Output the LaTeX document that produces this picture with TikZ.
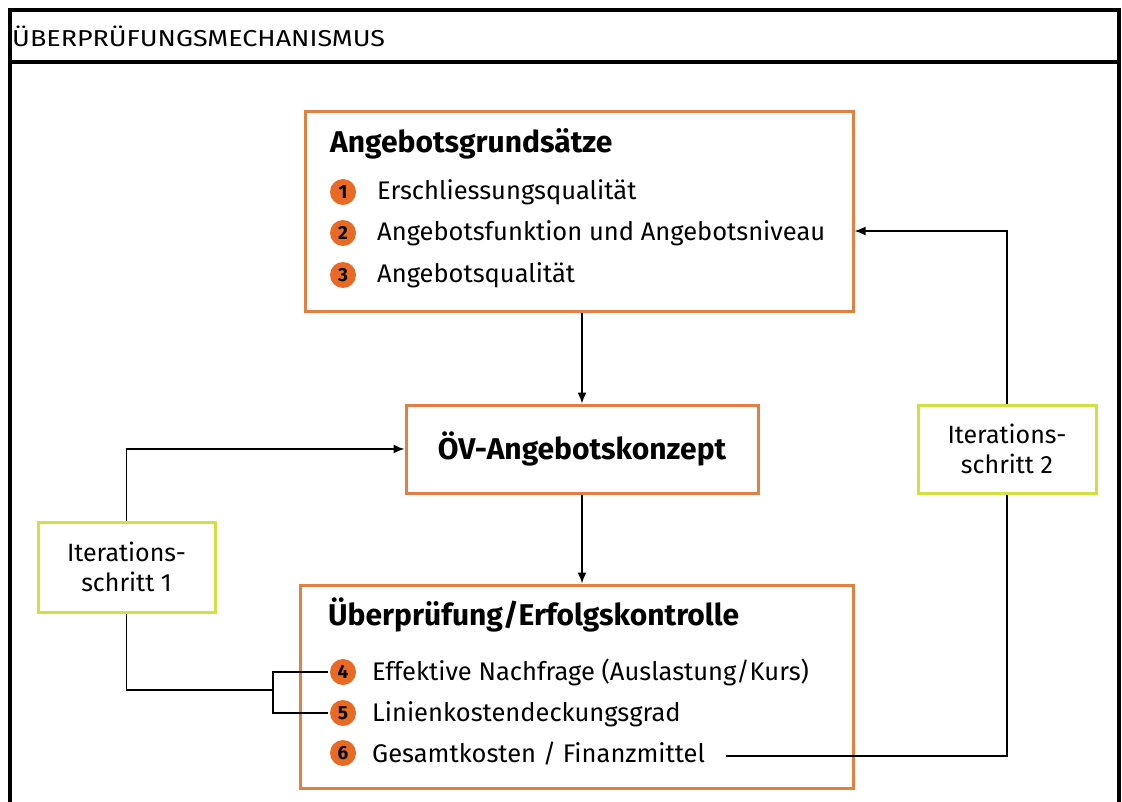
\documentclass[tikz,border=0pt]{standalone}
\usepackage{fontspec}
\setmainfont{Fira Sans}
\usetikzlibrary{arrows.meta}
\definecolor{obox}{RGB}{226,128,66}
\definecolor{ocirc}{RGB}{232,106,36}
\definecolor{gbox}{RGB}{208,226,60}
\tikzset{
  obx/.style={draw=obox,line width=3pt,inner sep=0pt},
  gbx/.style={draw=gbox,line width=3pt,fill=white,align=center,inner sep=0pt,font=\fontsize{25}{30}\selectfont},
  num/.style={circle,fill=ocirc,inner sep=0pt,minimum size=26pt,font=\fontsize{19}{19}\selectfont\bfseries},
  itm/.style={anchor=base west,inner sep=0pt,font=\fontsize{25.5}{30}\selectfont},
  ttl/.style={anchor=base west,inner sep=0pt,font=\fontsize{30}{34}\selectfont\bfseries},
  conn/.style={line width=1.6pt,black},
  arr/.style={conn,-{Latex[length=11pt,width=9pt]}}
}
\begin{document}
\begin{tikzpicture}[x=1pt,y=-1pt]
\useasboundingbox (0,0) rectangle (1122,802);
\clip (0,0) rectangle (1122,802);
\fill[white] (0,0) rectangle (1122,802);
% frame
\draw[line width=3.5pt] (10,10) rectangle (1119,820);
\draw[line width=3.5pt] (10,62) -- (1119,62);
\node[anchor=base west,inner sep=0pt,font=\fontsize{23}{26}\selectfont] (hdr) at (12,47) {\scalebox{1.17}[1]{ÜBERPRÜFUNGSMECHANISMUS}};
% boxes
\node[obx,minimum width=548pt,minimum height=200pt] (b1) at (579,212) {};
\node[obx,minimum width=352pt,minimum height=88pt,font=\fontsize{30}{34}\selectfont\bfseries] (b2) at (582,449) {ÖV-Angebotskonzept};
\node[obx,minimum width=553pt,minimum height=203pt] (b3) at (576.5,686.5) {};
\node[gbx,minimum width=177pt,minimum height=90pt] (i1) at (126.5,567) {Iterations-\\schritt 1};
\node[gbx,minimum width=178pt,minimum height=88pt] (i2) at (1007,449) {Iterations-\\schritt 2};
% box 1 content
\node[ttl] (t1) at (330,153) {Angebotsgrundsätze};
\node[num] (n1) at (343,192) {1};
\node[num] (n2) at (343,233) {2};
\node[num] (n3) at (343,275) {3};
\node[itm] (e1) at (377,200) {Erschliessungsqualität};
\node[itm] (e2) at (377,241) {Angebotsfunktion und Angebotsniveau};
\node[itm] (e3) at (377,283) {Angebotsqualität};
% box 3 content
\node[ttl] (t3) at (328,625) {Überprüfung/Erfolgskontrolle};
\node[num] (n4) at (343,672) {4};
\node[num] (n5) at (343,713) {5};
\node[num] (n6) at (343,753) {6};
\node[itm] (e4) at (372,680) {Effektive Nachfrage (Auslastung/Kurs)};
\node[itm] (e5) at (372,721) {Linienkostendeckungsgrad};
\node[itm] (e6) at (372,762) {Gesamtkosten / Finanzmittel};
% connectors
\draw[arr] (b1.south -| b2.north) -- (b2.north);
\draw[arr] (b2.south) -- (b2.south |- b3.north);
\coordinate (br) at (273,690);
\draw[conn] ([xshift=-2pt]n4.west) -- (n4.west -| br) -- (n5.west -| br) -- ([xshift=-2pt]n5.west);
\draw[conn] (br) -- (br -| i1.south) -- (i1.south);
\draw[arr] (i1.north) |- (b2.west);
\coordinate (s6) at (726,756);
\draw[conn] (s6) -| (i2.south);
\coordinate (a2) at (1007,231);
\draw[arr] (i2.north) -- (a2) -- (a2 -| b1.east);
\end{tikzpicture}
\end{document}
